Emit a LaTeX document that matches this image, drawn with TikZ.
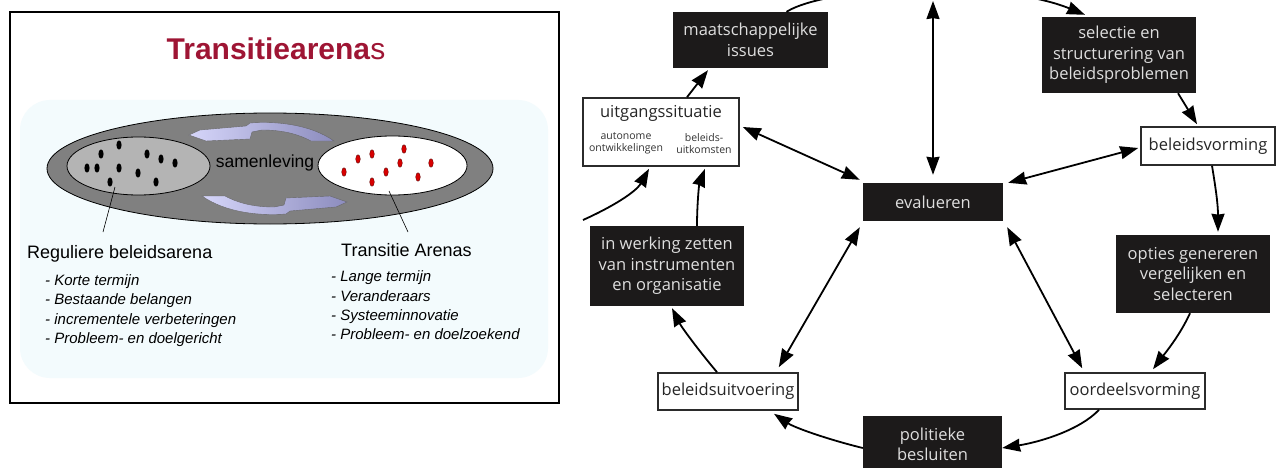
\documentclass[tikz,border=0pt]{standalone}
\usepackage{fontspec}
\setmainfont{Liberation Sans}
\newfontfamily\osans{Open Sans}
\usetikzlibrary{arrows.meta,shapes.geometric,calc}
\definecolor{ttlred}{RGB}{158,21,52}
\definecolor{bgcyan}{RGB}{243,251,253}
\definecolor{socgray}{RGB}{128,128,128}
\definecolor{reggray}{RGB}{180,180,180}
\definecolor{lavlight}{RGB}{214,214,250}
\definecolor{lavdark}{RGB}{140,140,190}
\definecolor{dotred}{RGB}{215,0,0}
\definecolor{boxblack}{RGB}{28,26,26}
\definecolor{boxtext}{RGB}{222,222,222}
\definecolor{boxline}{RGB}{43,43,43}
\begin{document}
\begin{tikzpicture}[x=1pt,y=-1pt,
  blk/.style={rectangle, fill=boxblack, text=boxtext, align=center, inner sep=0pt,
    font=\osans\fontsize{16.5}{20.5}\selectfont},
  wht/.style={rectangle, draw=boxline, line width=1.6pt, fill=white, text=black!85,
    align=center, inner sep=0pt, font=\osans\fontsize{16.5}{20.5}\selectfont},
  small/.style={align=center, inner sep=0pt, text=black!80,
    font=\osans\fontsize{10.5}{12.5}\selectfont},
  arr/.style={line width=1.8pt, -{Stealth[length=18pt,width=13pt,inset=0.8pt]}},
  darr/.style={line width=1.8pt, {Stealth[length=18pt,width=13pt,inset=0.8pt]}-{Stealth[length=18pt,width=13pt,inset=0.8pt]}},
  dotb/.style={fill=black},
  dotr/.style={fill=dotred, draw=black!70!red, line width=0.3pt},
  lbl/.style={inner sep=0pt, font=\fontsize{18}{22}\selectfont},
  itm/.style={inner sep=0pt, anchor=base west, font=\itshape\fontsize{15}{19}\selectfont},
  lavpiece/.style={left color=lavlight, right color=lavdark, draw=black!60, line width=0.4pt}
]
\useasboundingbox (0,0) rectangle (1276,468);
\fill[white] (0,0) rectangle (1276,468);

%% ---------------- left panel ----------------
\fill[bgcyan, rounded corners=30pt] (20,100) rectangle (548,378);
\draw[line width=2pt] (10,12) rectangle (559,403);

\node[anchor=base, inner sep=0pt, text=ttlred, font=\fontsize{30}{34}\selectfont] (ttl) at (276,60) {\textbf{Transitiearena}s};

\node[ellipse, draw=black, line width=0.8pt, fill=socgray, minimum width=446pt, minimum height=111pt, inner sep=0pt] (soc) at (270,168.5) {};

% curved block arrows
\path[lavpiece] (189,135) -- (200,130) -- (246,126) -- (250,123)
  .. controls (275,121) and (310,124) .. (334,141) -- (311,141)
  .. controls (296,133) and (280,130) .. (262,130) -- (252,132) -- (250,139) -- (206,141) -- cycle;
\begin{scope}[rotate around={180:(268,168.5)}]
\path[lavpiece] (189,135) -- (200,130) -- (246,126) -- (250,123)
  .. controls (275,121) and (310,124) .. (334,141) -- (311,141)
  .. controls (296,133) and (280,130) .. (262,130) -- (252,132) -- (250,139) -- (206,141) -- cycle;
\end{scope}

\node[ellipse, draw=black, line width=0.8pt, fill=reggray, minimum width=143pt, minimum height=58pt, inner sep=0pt] (reg) at (138.5,166) {};
\node[ellipse, draw=black, line width=0.8pt, fill=white, minimum width=149pt, minimum height=59pt, inner sep=0pt] (tra) at (392.5,165.5) {};

\node[anchor=base, inner sep=0pt, font=\fontsize{17.5}{20}\selectfont] (sam) at (265,167) {samenleving};

\foreach \px/\py in {119/145,101/154,147/154,161/159,175/163,87/168,97/168,119/168,138/173,110/182,156/182}
  \fill[dotb] (\px,\py) ellipse [x radius=2.6, y radius=4.6];
\foreach \px/\py in {404/149,358/159,372/154,400/163,431/163,344/172,386/172,418/177,372/182}
  \path[dotr] (\px,\py) ellipse [x radius=2.3, y radius=4.3];

\coordinate (regp) at (115,187);
\coordinate (regl) at (103,232);
\coordinate (trap) at (389,191);
\coordinate (tral) at (408,232);
\draw[line width=0.6pt] (regp) -- (regl);
\draw[line width=0.6pt] (trap) -- (tral);

\node[lbl, anchor=base west] (lreg) at (27,258) {Reguliere beleidsarena};
\node[lbl, anchor=base west] (ltra) at (341,256) {Transitie Arenas};

\node[itm] (l1) at (45,285) {- Korte termijn};
\node[itm] (l2) at (45,304.5) {- Bestaande belangen};
\node[itm] (l3) at (45,324) {- incrementele verbeteringen};
\node[itm] (l4) at (45,343) {- Probleem- en doelgericht};
\node[itm] (r1) at (331,281) {- Lange termijn};
\node[itm] (r2) at (331,301) {- Veranderaars};
\node[itm] (r3) at (331,320) {- Systeeminnovatie};
\node[itm] (r4) at (331,339) {- Probleem- en doelzoekend};

%% ---------------- right panel ----------------
\node[blk, minimum width=155pt, minimum height=56pt] (maat) at (750.5,40) {maatschappelijke\\issues};
\node[wht, minimum width=156pt, minimum height=68pt] (uit) at (661,132) {};
\node[inner sep=0pt, text=black!85, font=\osans\fontsize{16.5}{20}\selectfont] (uitT) at (661,113) {uitgangssituatie};
\node[small] (uitA) at (626,143.5) {autonome\\ontwikkelingen};
\node[small] (uitB) at (704,143.5) {beleids-\\uitkomsten};
\node[blk, minimum width=154pt, minimum height=76pt] (sel) at (1119,55) {selectie en\\structurering van\\beleidsproblemen};
\node[wht, minimum width=134pt, minimum height=38pt] (bv) at (1208,146) {beleidsvorming};
\node[blk, minimum width=140pt, minimum height=38pt] (eval) at (933,202) {evalueren};
\node[blk, minimum width=154pt, minimum height=78pt] (opt) at (1193,274) {opties genereren\\vergelijken en\\selecteren};
\node[wht, minimum width=140pt, minimum height=36pt] (oord) at (1135,391) {oordeelsvorming};
\node[blk, minimum width=139pt, minimum height=56pt, anchor=north] (pol) at (932.5,416) {politieke\\besluiten};
\node[wht, minimum width=140pt, minimum height=37pt] (bu) at (728,391.5) {beleidsuitvoering};
\node[blk, minimum width=154pt, minimum height=80pt] (iw) at (667,266) {in werking zetten\\van instrumenten\\en organisatie};

\coordinate (lin) at (583,220);
\coordinate (vtop) at (933,1);

\draw[arr] ([xshift=26pt]uit.north) -- ([xshift=-42.5pt,yshift=-2pt]maat.south);
\draw[darr] ([xshift=3pt,yshift=5pt]uit.east) -- ([xshift=-3pt,yshift=3pt]eval.north west);
\draw[darr] ([xshift=5pt]eval.north east) -- ([xshift=-2pt,yshift=-2pt]bv.west);
\draw[arr] ([xshift=59pt]sel.south) -- ([xshift=-11pt,yshift=2pt]bv.north);
\draw[arr] ([xshift=4pt]bv.south) .. controls (1216,190) and (1218,205) .. ([xshift=25pt,yshift=3pt]opt.north);
\draw[arr] ([xshift=-3pt]opt.south) .. controls (1180,335) and (1166,352) .. ([xshift=18pt,yshift=3pt]oord.north);
\draw[darr] ([xshift=4pt,yshift=-6pt]eval.south east) -- ([xshift=18pt,yshift=4pt]oord.north west);
\draw[arr] ([xshift=-36pt]oord.south) .. controls (1080,430) and (1040,442) .. ([yshift=-32pt]pol.north east);
\draw[arr] ([yshift=-32pt]pol.north west) .. controls (830,440) and (795,428) .. ([xshift=46pt,yshift=-3pt]bu.south);
\draw[darr] ([xshift=-3pt,yshift=-6pt]eval.south west) -- ([xshift=-20pt,yshift=5pt]bu.north east);
\draw[arr] ([xshift=-11pt]bu.north) .. controls (700,352) and (682,328) .. ([xshift=5pt,yshift=-2pt]iw.south);
\draw[arr] ([xshift=30pt]iw.north) .. controls (697,205) and (699,185) .. ([xshift=44pt,yshift=-2pt]uit.south);
\draw[arr] (lin) .. controls (612,207) and (636,192) .. ([xshift=-12pt,yshift=-2pt]uit.south);
\draw[arr] ([xshift=36pt]maat.north) .. controls (830,-15) and (1000,-20) .. ([xshift=-34pt,yshift=2pt]sel.north);
\draw[darr] ([yshift=8pt]eval.north) -- (vtop);
\end{tikzpicture}
\end{document}
